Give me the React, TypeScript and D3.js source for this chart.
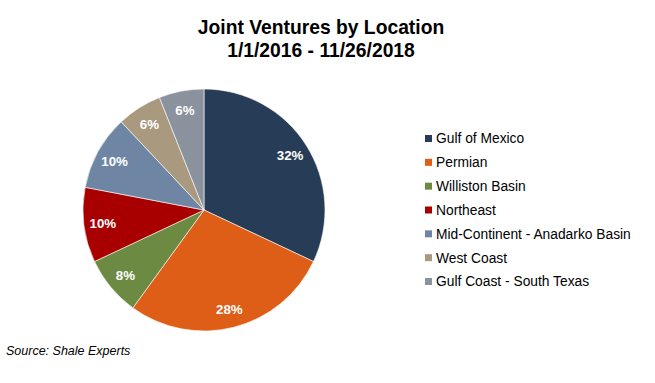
import React from "react";
import * as d3 from "d3";

const categories = [
  "Gulf of Mexico",
  "Permian",
  "Williston Basin",
  "Northeast",
  "Mid-Continent - Anadarko Basin",
  "West Coast",
  "Gulf Coast - South Texas",
];
const values = [32, 28, 8, 10, 10, 6, 6];
const colors = ["#273c56", "#de5e17", "#6d8a43", "#a80000", "#6e86a4", "#a99a7f", "#8a929e"];
const titleLines = ["Joint Ventures by Location", "1/1/2016 - 11/26/2018"];
const source = "Source: Shale Experts";

const W = 655;
const H = 383;
const cx = 204;
const cy = 210;
const R = 121;
const labelR = 102;
const font = "'Liberation Sans', Arial, Helvetica, sans-serif";

export default function App() {
  const data = categories.map((c, i) => ({ c, v: values[i], color: colors[i] }));
  const pie = d3.pie<any>().value((d) => d.v).sort(null);
  const arcs = pie(data);
  const arc = d3.arc<any>().innerRadius(0).outerRadius(R);
  const labelArc = d3.arc<any>().innerRadius(labelR).outerRadius(labelR);
  const legendY = d3.scaleLinear().domain([0, categories.length - 1]).range([138.5, 281.5]);

  return (
    <svg
      width={W}
      height={H}
      style={{ position: "absolute", left: 0, top: 0, background: "#fff" }}
      fontFamily={font}
    >
      <rect width={W} height={H} fill="#fff" />
      <g textAnchor="middle" fontWeight="bold" fontSize={19.3} fill="#000">
        {titleLines.map((t, i) => (
          <text key={i} x={321} y={33.5 + i * 23.5}>
            {t}
          </text>
        ))}
      </g>
      <g transform={`translate(${cx},${cy})`}>
        {arcs.map((a, i) => (
          <path key={i} d={arc(a) as string} fill={a.data.color} stroke="#fff" strokeWidth={0.6} />
        ))}
        {arcs.map((a, i) => {
          const [x, y] = labelArc.centroid(a);
          return (
            <text
              key={"l" + i}
              x={x}
              y={y}
              dy="0.36em"
              textAnchor="middle"
              fontWeight="bold"
              fontSize={13.3}
              fill="#fff"
            >
              {a.data.v}%
            </text>
          );
        })}
      </g>
      <g>
        {categories.map((c, i) => (
          <g key={c} transform={`translate(0,${legendY(i)})`}>
            <rect x={425} y={-3.5} width={7} height={7} fill={colors[i]} />
            <text x={436} y={0} dy="0.36em" fontSize={13.8} fill="#000">
              {c}
            </text>
          </g>
        ))}
      </g>
      <text x={6} y={355} fontSize={12.5} fontStyle="italic" fill="#000">
        {source}
      </text>
    </svg>
  );
}
